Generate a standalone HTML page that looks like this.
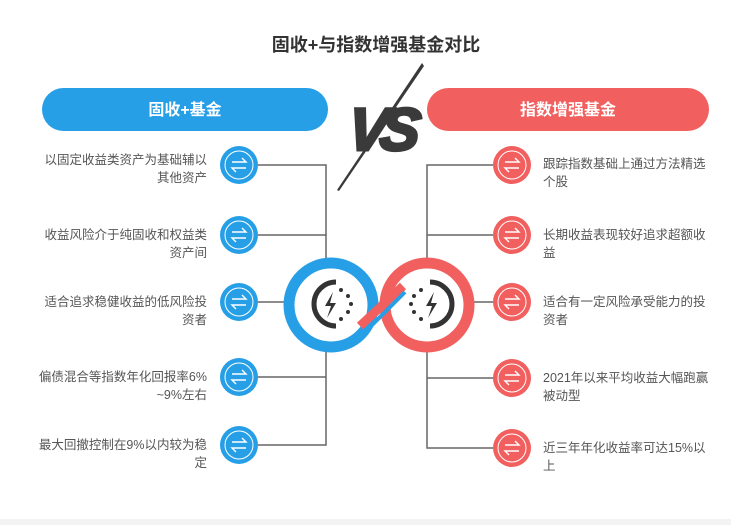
<!DOCTYPE html>
<html><head><meta charset="utf-8"><style>
html,body{margin:0;padding:0;background:#fff;}
svg text{font-family:"Liberation Sans","Noto Sans CJK SC",sans-serif;}
</style></head><body>
<svg width="731" height="525" viewBox="0 0 731 525" xmlns="http://www.w3.org/2000/svg">
<rect width="731" height="525" fill="#fff"/>
<rect x="0" y="519" width="731" height="6" fill="#f3f3f3"/>
<text x="376" y="51" text-anchor="middle" font-size="18" font-weight="bold" fill="#333">固收+与指数增强基金对比</text>
<rect x="42" y="88" width="286" height="43" rx="21.5" fill="#279fe6"/>
<text x="185" y="115" text-anchor="middle" font-size="16" font-weight="bold" fill="#fff">固收+基金</text>
<rect x="427" y="88" width="282" height="43" rx="21.5" fill="#f25f5f"/>
<text x="568" y="115" text-anchor="middle" font-size="16" font-weight="bold" fill="#fff">指数增强基金</text>
<!-- VS -->
<path d="M422 63L337 190L339 191L424 66z" fill="#3a3a3a"/>
<text x="380" y="150" text-anchor="middle" font-size="60" font-weight="bold" font-style="italic" fill="#3a3a3a" stroke="#3a3a3a" stroke-width="3" letter-spacing="-8" transform="skewX(-6) translate(14 0)">VS</text>
<!-- connector lines -->
<g stroke="#666" stroke-width="1.5" fill="none">
<path d="M258 165H326V445H258M258 235H326M258 302H326M258 377H326"/>
<path d="M493 165H427V448H493M493 235H427M493 302H427M493 378H427"/>
</g>
<!-- infinity -->
<circle cx="331" cy="305" r="42" fill="#fff" stroke="#279fe6" stroke-width="11"/>
<circle cx="427" cy="305" r="42" fill="#fff" stroke="#f25f5f" stroke-width="11"/>
<line x1="360" y1="326" x2="403" y2="286" stroke="#f25f5f" stroke-width="9"/>
<line x1="366" y1="331" x2="405" y2="292" stroke="#279fe6" stroke-width="4"/>
<g fill="#333">
<path d="M336 282a22 22 0 0 0 0 44" fill="none" stroke="#333" stroke-width="5"/>
<path d="M333 292l-8 14h6l-4 12 9-15h-6z"/>
<circle cx="341" cy="290" r="2"/><circle cx="348" cy="296" r="2"/><circle cx="351" cy="304" r="2"/><circle cx="348" cy="312" r="2"/><circle cx="341" cy="319" r="2"/>
<path d="M430 282a22 22 0 0 1 0 44" fill="none" stroke="#333" stroke-width="5"/>
<path d="M434 292l-8 14h6l-4 12 9-15h-6z"/>
<circle cx="421" cy="290" r="2"/><circle cx="414" cy="296" r="2"/><circle cx="411" cy="304" r="2"/><circle cx="414" cy="312" r="2"/><circle cx="421" cy="319" r="2"/>
</g>
<!-- icons -->
<defs>
<g id="ic"><circle r="19"/><circle r="14" fill="none" stroke="#fff" stroke-width="1"/><path d="M-7 -3H7L3 -7M7 3H-7L-3 7" fill="none" stroke="#fff" stroke-width="1.4"/></g>
</defs>
<g fill="#279fe6">
<use href="#ic" x="239" y="165"/><use href="#ic" x="239" y="235"/><use href="#ic" x="239" y="302"/><use href="#ic" x="239" y="377"/><use href="#ic" x="239" y="445"/>
</g>
<g fill="#f25f5f">
<use href="#ic" x="512" y="165"/><use href="#ic" x="512" y="235"/><use href="#ic" x="512" y="302"/><use href="#ic" x="512" y="378"/><use href="#ic" x="512" y="448"/>
</g>
<g font-size="12.5" fill="#555" text-anchor="end">
<text x="207" y="164">以固定收益类资产为基础辅以</text><text x="207" y="182">其他资产</text>
<text x="207" y="239">收益风险介于纯固收和权益类</text><text x="207" y="257">资产间</text>
<text x="207" y="306">适合追求稳健收益的低风险投</text><text x="207" y="324">资者</text>
<text x="207" y="381">偏债混合等指数年化回报率6%</text><text x="207" y="399">~9%左右</text>
<text x="207" y="449">最大回撤控制在9%以内较为稳</text><text x="207" y="467">定</text>
</g>
<g font-size="12.5" fill="#555">
<text x="543" y="168">跟踪指数基础上通过方法精选</text><text x="543" y="186">个股</text>
<text x="543" y="239">长期收益表现较好追求超额收</text><text x="543" y="257">益</text>
<text x="543" y="306">适合有一定风险承受能力的投</text><text x="543" y="324">资者</text>
<text x="543" y="382">2021年以来平均收益大幅跑赢</text><text x="543" y="400">被动型</text>
<text x="543" y="452">近三年年化收益率可达15%以</text><text x="543" y="470">上</text>
</g>
</svg>
</body></html>
